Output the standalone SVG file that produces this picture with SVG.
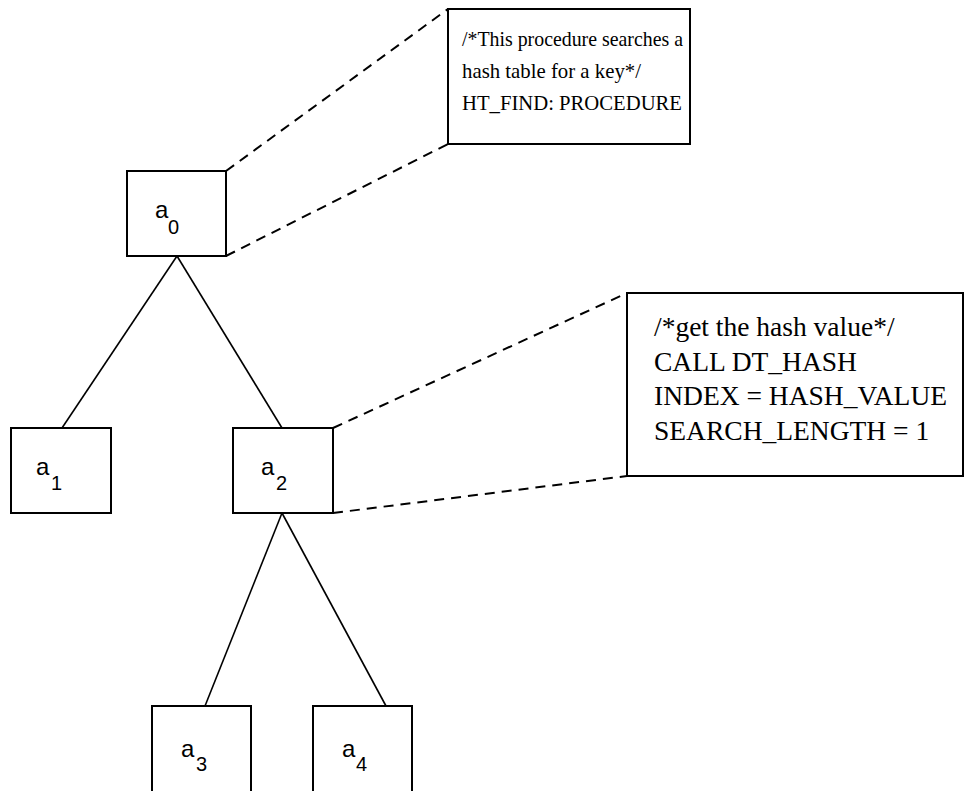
<svg xmlns="http://www.w3.org/2000/svg" width="971" height="791" viewBox="0 0 971 791">
<style>
.box{fill:#fff;stroke:#000;stroke-width:2}
.edge{stroke:#000;stroke-width:1.6;fill:none}
.dash{stroke:#000;stroke-width:2;fill:none;stroke-dasharray:10 7}
.lbl{font-family:"Liberation Sans",Arial,sans-serif;font-size:24px;fill:#000}
.sub{font-size:20px}
.txt1{font-family:"Liberation Serif",serif;font-size:21.5px;fill:#000}
.txt2{font-family:"Liberation Serif",serif;font-size:27.5px;fill:#000}
</style>
<rect width="971" height="791" fill="#fff"/>
<g id="connectors">
<line class="edge" x1="177" y1="256" x2="62" y2="428"/>
<line class="edge" x1="177" y1="256" x2="282" y2="428"/>
<line class="edge" x1="282" y1="513" x2="205" y2="706"/>
<line class="edge" x1="282" y1="513" x2="386" y2="706"/>
<line class="dash" x1="226" y1="171" x2="448" y2="9"/>
<line class="dash" x1="226" y1="256" x2="448" y2="144"/>
<line class="dash" x1="333" y1="428" x2="627" y2="293"/>
<line class="dash" x1="333" y1="513" x2="627" y2="476"/>
</g>
<g id="a0">
<rect class="box" x="127" y="171" width="99" height="85"/>
<text class="lbl" x="155" y="218">a<tspan class="sub" x="168" y="234">0</tspan></text>
</g>
<g id="a1">
<rect class="box" x="11" y="428" width="100" height="85"/>
<text class="lbl" x="36" y="475">a<tspan class="sub" x="51" y="490">1</tspan></text>
</g>
<g id="a2">
<rect class="box" x="233" y="428" width="100" height="85"/>
<text class="lbl" x="261" y="475">a<tspan class="sub" x="276" y="490">2</tspan></text>
</g>
<g id="a3">
<rect class="box" x="152" y="706" width="99" height="95"/>
<text class="lbl" x="181" y="757">a<tspan class="sub" x="196" y="771">3</tspan></text>
</g>
<g id="a4">
<rect class="box" x="313" y="706" width="99" height="95"/>
<text class="lbl" x="342" y="757">a<tspan class="sub" x="356" y="771">4</tspan></text>
</g>
<g id="note1">
<rect class="box" x="448" y="9" width="242" height="135"/>
<text class="txt1" x="462" y="46" textLength="221" lengthAdjust="spacingAndGlyphs">/*This procedure searches a</text>
<text class="txt1" x="462" y="78" textLength="179" lengthAdjust="spacingAndGlyphs">hash table for a key*/</text>
<text class="txt1" x="462" y="110" textLength="220" lengthAdjust="spacingAndGlyphs">HT_FIND: PROCEDURE</text>
</g>
<g id="note2">
<rect class="box" x="627" y="293" width="336" height="183"/>
<text class="txt2" x="654" y="336">/*get the hash value*/</text>
<text class="txt2" x="654" y="371">CALL DT_HASH</text>
<text class="txt2" x="654" y="405">INDEX = HASH_VALUE</text>
<text class="txt2" x="654" y="440">SEARCH_LENGTH = 1</text>
</g>
</svg>
